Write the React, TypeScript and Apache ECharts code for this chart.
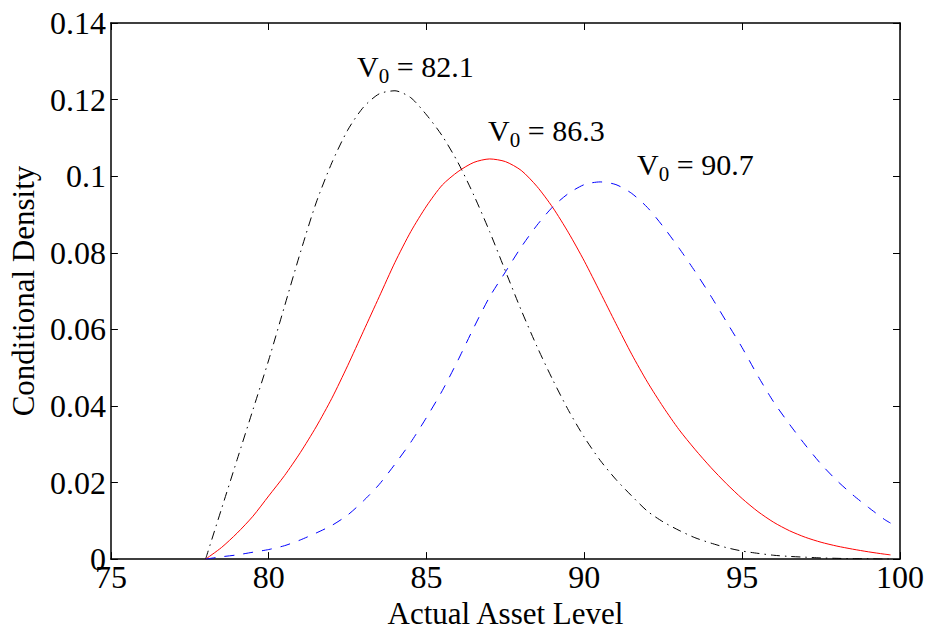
import React, { useEffect, useRef } from "react";
import * as echarts from "echarts";

const xValues = [
  78, 78.5, 79, 79.5, 80, 80.5, 81, 81.5, 82, 82.5, 83, 83.5, 84, 84.5, 85, 85.5,
  86, 86.5, 87, 87.5, 88, 88.5, 89, 89.5, 90, 90.5, 91, 91.5, 92, 92.5, 93, 93.5,
  94, 94.5, 95, 95.5, 96, 96.5, 97, 97.5, 98, 98.5, 99, 99.5, 99.7,
];

const densityV821 = [
  0, 0.013, 0.026, 0.039, 0.052, 0.066, 0.08, 0.093, 0.1035, 0.112, 0.118, 0.1215,
  0.1223, 0.1205, 0.116, 0.1105, 0.1035, 0.095, 0.0855, 0.0752, 0.065, 0.0555,
  0.0468, 0.0388, 0.0318, 0.0258, 0.0208, 0.0165, 0.0125, 0.0097, 0.0075, 0.0056,
  0.0042, 0.003, 0.0021, 0.0015, 0.001, 0.0007, 0.0005, 0.0003, 0.0002, 0.0001,
  0.0001, 0, 0,
];

const densityV863 = [
  0, 0.003, 0.0068, 0.0112, 0.0165, 0.0218, 0.0278, 0.0345, 0.042, 0.0505, 0.0595,
  0.0685, 0.0775, 0.0855, 0.0922, 0.0977, 0.1012, 0.1036, 0.1045, 0.1038, 0.1015,
  0.0973, 0.0918, 0.0852, 0.0778, 0.0697, 0.0615, 0.0535, 0.0462, 0.0397, 0.0338,
  0.0287, 0.024, 0.0197, 0.0158, 0.0124, 0.0096, 0.0074, 0.0057, 0.0044, 0.0034,
  0.0026, 0.0019, 0.0013, 0.0011,
];

const densityV907 = [
  0, 0.0006, 0.0011, 0.0018, 0.0025, 0.0035, 0.005, 0.0068, 0.0088, 0.0115, 0.0152,
  0.0195, 0.0248, 0.0305, 0.037, 0.044, 0.052, 0.0605, 0.0685, 0.075, 0.0815,
  0.0872, 0.092, 0.0955, 0.0978, 0.0985, 0.0978, 0.0955, 0.0918, 0.0868, 0.0812,
  0.0752, 0.0688, 0.062, 0.0552, 0.0478, 0.041, 0.0352, 0.0298, 0.0248, 0.0205,
  0.0168, 0.0135, 0.0104, 0.0094,
];

const annotationX = [82.8, 86.95, 91.67];
const annotationY = [0.1262, 0.1095, 0.1006];
const annotationValue = ["82.1", "86.3", "90.7"];

const FONT = "'Liberation Serif', 'Times New Roman', serif";

const pairs = (ys: number[]) => xValues.map((x, i) => [x, ys[i]]);

export default function App() {
  const ref = useRef<HTMLDivElement>(null);
  useEffect(() => {
    if (!ref.current) return;
    const chart = echarts.init(ref.current, null, { renderer: "svg" });
    const tickStyle = { show: true, inside: true, length: 7, lineStyle: { color: "#000", width: 1 } };
    const axisLine = { show: true, onZero: false, lineStyle: { color: "#000", width: 1.5 } };
    const lineCommon = { type: "line", showSymbol: false, smooth: 0.25 };
    chart.setOption({
      animation: false,
      backgroundColor: "#fff",
      grid: { left: 105, right: 32, top: 23, bottom: 64, containLabel: false },
      xAxis: [
        {
          type: "value",
          min: 75,
          max: 100,
          interval: 5,
          axisLine,
          axisTick: tickStyle,
          splitLine: { show: false },
          axisLabel: { color: "#000", fontFamily: FONT, fontSize: 32, margin: 2 },
          name: "Actual Asset Level",
          nameLocation: "middle",
          nameGap: 38,
          nameTextStyle: { color: "#000", fontFamily: FONT, fontSize: 31 },
        },
        {
          type: "value",
          position: "top",
          min: 75,
          max: 100,
          interval: 5,
          axisLine,
          axisTick: tickStyle,
          splitLine: { show: false },
          axisLabel: { show: false },
        },
      ],
      yAxis: [
        {
          type: "value",
          min: 0,
          max: 0.14,
          interval: 0.02,
          axisLine,
          axisTick: tickStyle,
          splitLine: { show: false },
          axisLabel: {
            color: "#000",
            fontFamily: FONT,
            fontSize: 32,
            margin: 5,
            formatter: (v: number) => String(parseFloat(v.toFixed(2))),
          },
          name: "Conditional Density",
          nameLocation: "middle",
          nameGap: 48,
          nameTextStyle: { color: "#000", fontFamily: FONT, fontSize: 31 },
        },
        {
          type: "value",
          position: "right",
          min: 0,
          max: 0.14,
          interval: 0.02,
          axisLine,
          axisTick: tickStyle,
          splitLine: { show: false },
          axisLabel: { show: false },
        },
      ],
      series: [
        {
          ...lineCommon,
          data: pairs(densityV821),
          lineStyle: { color: "#000", width: 1, type: [9, 5, 1.5, 5] },
        },
        {
          ...lineCommon,
          data: pairs(densityV863),
          lineStyle: { color: "#ff0000", width: 1, type: "solid" },
        },
        {
          ...lineCommon,
          data: pairs(densityV907),
          lineStyle: { color: "#0000ff", width: 1, type: [10, 9] },
        },
      ],
    });

    const graphics = annotationX.map((x, i) => {
      const p = chart.convertToPixel({ gridIndex: 0 }, [x, annotationY[i]]) as number[];
      return {
        type: "text",
        x: p[0],
        y: p[1] + 11,
        silent: true,
        style: {
          text: `{v|V}{s|0}{v| = ${annotationValue[i]}}`,
          align: "left",
          verticalAlign: "bottom",
          fill: "#000",
          rich: {
            v: { fontFamily: FONT, fontSize: 30, lineHeight: 40, verticalAlign: "middle", fill: "#000" },
            s: { fontFamily: FONT, fontSize: 21, lineHeight: 40, verticalAlign: "bottom", fill: "#000" },
          },
        },
      };
    });
    chart.setOption({ graphic: graphics });

    return () => chart.dispose();
  }, []);
  return (
    <div
      ref={ref}
      style={{ position: "fixed", left: 0, top: 0, width: 932, height: 634 }}
    />
  );
}
